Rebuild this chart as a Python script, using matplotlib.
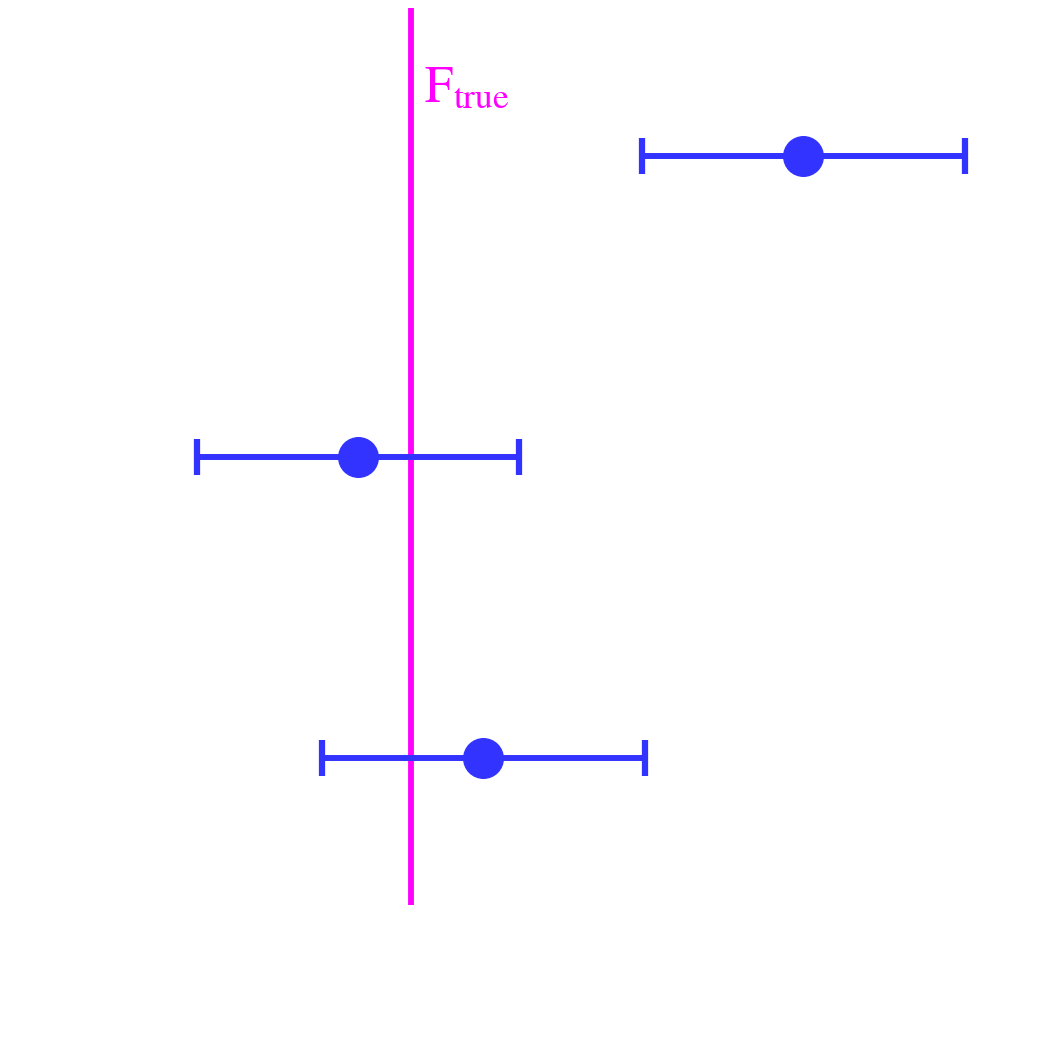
import numpy as np
import matplotlib.pyplot as plt

plt.rcParams['mathtext.fontset'] = 'stix'

# data in plot units
f_true = 410.5
y_top, y_bottom = 8, 905
y_pos = [156, 457, 758]
estimates = [803, 358, 483]
errors = [161.5, 161, 161.5]

blue = '#3333ff'
magenta = '#ff00ff'

fig = plt.figure(figsize=(10.5, 10.5), dpi=100)
ax = fig.add_axes([0, 0, 1, 1])
ax.set_xlim(0, 1050)
ax.set_ylim(1050, 0)
ax.axis('off')

ax.plot([f_true, f_true], [y_top, y_bottom], color=magenta, lw=4.2, solid_capstyle='butt')
ax.text(f_true + 13, 102, r'$\mathrm{F}_{\mathrm{true}}$', color=magenta,
        fontsize=36.5, ha='left', va='baseline')

ax.errorbar(estimates, y_pos, xerr=errors, fmt='o', color=blue, ms=28.5,
            elinewidth=4.3, capsize=13, capthick=4.5, zorder=3)

fig.savefig('out.png', dpi=100)
